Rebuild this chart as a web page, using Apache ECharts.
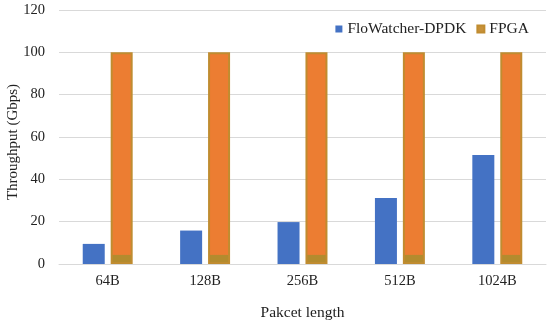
<!DOCTYPE html>
<html><head><meta charset="utf-8">
<script src="https://cdn.jsdelivr.net/npm/echarts@6/dist/echarts.min.js"></script>
<style>html,body{margin:0;padding:0;background:#fff}#c{width:550px;height:325px}</style>
</head><body><div id="c"></div>
<script>
const categories = ['64B','128B','256B','512B','1024B'];
const flowatcher = [9.5, 15.8, 19.8, 31.2, 51.5];
const fpga = [100, 100, 100, 100, 100];
const yTicks = {min: 0, max: 120, interval: 20};

const chart = echarts.init(document.getElementById('c'), null, {renderer: 'canvas'});
const font = 'Liberation Serif, Times New Roman, serif';
chart.setOption({
  animation: false,
  textStyle: {fontFamily: font},
  grid: {left: 59, right: 4, top: 10, bottom: 61, containLabel: false, outerBoundsMode: 'none'},
  legend: {
    data: [{name: 'FloWatcher-DPDK', itemStyle: {color: '#4472C4'}}, {name: 'FPGA', itemStyle: {color: '#C8923A'}}],
    top: 16, right: 16, itemWidth: 7, itemHeight: 7, itemGap: 10, icon: 'rect',
    textStyle: {fontFamily: font, fontSize: 15.5, color: '#222'}
  },
  xAxis: {
    type: 'category', data: categories,
    name: 'Pakcet length', nameLocation: 'middle', nameGap: 41, nameMoveOverlap: false,
    nameTextStyle: {fontFamily: font, fontSize: 15.5, color: '#222'},
    axisLine: {lineStyle: {color: '#d9d9d9'}}, axisTick: {show: false},
    axisLabel: {fontFamily: font, fontSize: 14.5, color: '#222', margin: 10}
  },
  yAxis: {
    type: 'value', min: yTicks.min, max: yTicks.max, interval: yTicks.interval,
    name: 'Throughput (Gbps)', nameLocation: 'middle', nameGap: 38, nameMoveOverlap: false,
    nameTextStyle: {fontFamily: font, fontSize: 15, color: '#222', padding: [0, 10, 0, 0]},
    axisLine: {show: false}, axisTick: {show: false},
    axisLabel: {fontFamily: font, fontSize: 14.5, color: '#222', margin: 14},
    splitLine: {lineStyle: {color: '#d9d9d9'}}
  },
  series: [
    {name: 'FloWatcher-DPDK', type: 'bar', data: flowatcher, barWidth: 22, barGap: '27%',
     itemStyle: {color: '#4472C4'}},
    {name: 'FPGA', type: 'bar', data: fpga, barWidth: 22,
     itemStyle: {
       color: {type: 'linear', x: 0, y: 0, x2: 0, y2: 1, colorStops: [
         {offset: 0, color: '#EC7D32'}, {offset: 0.955, color: '#EC7D32'},
         {offset: 0.956, color: '#B38B2E'}, {offset: 1, color: '#B38B2E'}]},
       borderColor: '#C08C30', borderWidth: 2
     }}
  ]
});
</script></body></html>
